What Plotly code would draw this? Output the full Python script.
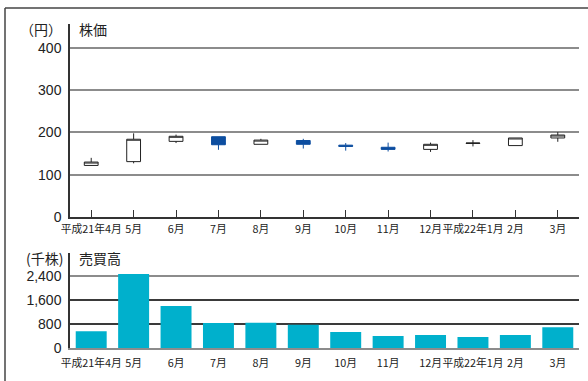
import plotly.graph_objects as go

months = ["平成21年4月", "5月", "6月", "7月", "8月", "9月", "10月", "11月", "12月", "平成22年1月", "2月", "3月"]
price_open = [122, 131, 179, 190, 172, 181, 170, 165, 160, 174, 169, 187]
price_high = [140, 198, 195, 190, 185, 185, 175, 176, 176, 182, 187, 201]
price_low = [121, 127, 175, 159, 172, 162, 157, 155, 154, 167, 169, 178]
price_close = [130, 184, 191, 171, 182, 172, 167, 160, 172, 175, 187, 194]
volume = [570, 2470, 1400, 840, 845, 780, 540, 410, 440, 375, 440, 700]

price_ticks = [0, 100, 200, 300, 400]
volume_ticks = [0, 800, 1600, 2400]
volume_ticktext = ["0", "800", "1,600", "2,400"]

W, H = 588, 381
def px(x):
    return x / W
def py(y):
    return 1 - y / H

BLUE = "#0d4ea0"
CYAN = "#00b0cc"
DARK = "#333333"
GRAY = "#8c8c8c"
NUM_FONT = dict(family="Liberation Sans, Arial", size=14, color="#222")
CAT_FONT = dict(family="Liberation Sans Narrow, Noto Sans CJK JP", size=10.8, color="#222")

fig = go.Figure()
fig.add_trace(go.Candlestick(
    x=months, open=price_open, high=price_high, low=price_low, close=price_close,
    xaxis="x", yaxis="y",
    increasing=dict(line=dict(color="#222", width=1), fillcolor="white"),
    decreasing=dict(line=dict(color=BLUE, width=1), fillcolor=BLUE),
    whiskerwidth=0, showlegend=False, hoverinfo="skip",
))
fig.add_trace(go.Bar(
    x=months, y=volume, xaxis="x2", yaxis="y2",
    marker=dict(color=CYAN, line=dict(width=0)), showlegend=False,
))
# invisible helper trace for the gray top gridline in the volume panel
fig.add_trace(go.Scatter(x=[months[0]], y=[0], xaxis="x2", yaxis="y3",
                         mode="markers", marker=dict(opacity=0), showlegend=False,
                         hoverinfo="skip"))

xdom = [px(70), px(579)]
fig.update_layout(
    width=W, height=H, margin=dict(l=0, r=0, t=0, b=0, autoexpand=False),
    paper_bgcolor="white", plot_bgcolor="white",
    boxgap=0.535, bargap=0.27,
    xaxis=dict(domain=xdom, anchor="y", type="category", range=[-0.5, 11.5],
               showline=True, linecolor=DARK, linewidth=1.5,
               ticks="inside", ticklen=7, tickcolor=DARK, tickwidth=1,
               showgrid=False, tickfont=CAT_FONT, rangeslider=dict(visible=False),
               tickangle=0, automargin=False, fixedrange=True, ticklabelstandoff=1),
    yaxis=dict(domain=[py(217), py(24.3)], anchor="x", range=[0, 456],
               tickvals=price_ticks, tickfont=NUM_FONT,
               showline=True, linecolor=DARK, linewidth=1.5,
               showgrid=True, gridcolor=GRAY, gridwidth=1.5, zeroline=False,
               ticks="", ticklabelstandoff=4, automargin=False),
    xaxis2=dict(domain=xdom, anchor="y2", type="category", range=[-0.5, 11.5],
                showline=True, linecolor=GRAY, linewidth=2, ticks="",
                showgrid=False, tickfont=CAT_FONT, tickangle=0, automargin=False,
                ticklabelstandoff=4),
    yaxis2=dict(domain=[py(348.3), py(252.7)], anchor="x2", range=[0, 3173],
                tickvals=volume_ticks, ticktext=volume_ticktext, tickfont=NUM_FONT,
                showline=True, linecolor=DARK, linewidth=1.5,
                showgrid=True, gridcolor="#3a3a3a", gridwidth=1.5, zeroline=False,
                ticks="", ticklabelstandoff=4, automargin=False),
    yaxis3=dict(domain=[py(348.3), py(252.7)], anchor="x2", overlaying="y2",
                range=[0, 3173], tickvals=[volume_ticks[-1]], showticklabels=False,
                showgrid=True, gridcolor=GRAY, gridwidth=1.5, zeroline=False,
                showline=False, automargin=False),
)

# frame lines
fig.add_shape(type="line", xref="paper", yref="paper", x0=px(5), x1=1.0, y0=py(8), y1=py(8),
              line=dict(color="#444", width=1.5))
fig.add_shape(type="line", xref="paper", yref="paper", x0=px(5), x1=px(5), y0=py(8), y1=0,
              line=dict(color="#444", width=1.5))

TITLE_FONT = dict(family="Noto Sans CJK JP", size=14, color="#222")
fig.add_annotation(text="（円）", xref="paper", yref="paper", x=px(64), y=py(29),
                   xanchor="right", yanchor="middle", showarrow=False, font=TITLE_FONT)
fig.add_annotation(text="株価", xref="paper", yref="paper", x=px(77), y=py(29),
                   xanchor="left", yanchor="middle", showarrow=False, font=TITLE_FONT)
fig.add_annotation(text="(千株)", xref="paper", yref="paper", x=px(65), y=py(258),
                   xanchor="right", yanchor="middle", showarrow=False, font=TITLE_FONT)
fig.add_annotation(text="売買高", xref="paper", yref="paper", x=px(77), y=py(258),
                   xanchor="left", yanchor="middle", showarrow=False, font=TITLE_FONT)

fig.write_html("out.html")
